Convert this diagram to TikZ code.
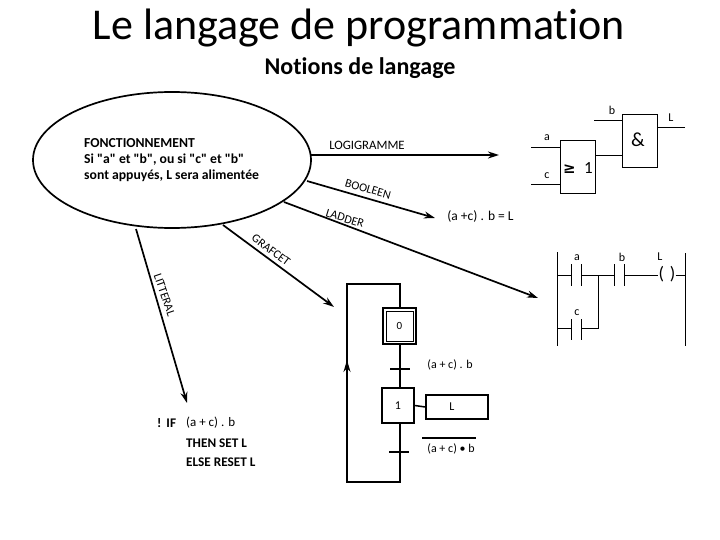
\documentclass[tikz,border=0pt]{standalone}
\usepackage{fontspec}
\setmainfont{Carlito}[Ligatures={NoCommon,TeXOff}]
\newfontfamily\symfont{DejaVu Sans}
\usetikzlibrary{arrows.meta,shapes.geometric}
\newcommand{\fsz}[1]{\fontsize{#1}{#1}\selectfont}
\tikzset{
 x=1pt,y=-1pt,
 lab/.style={inner sep=0pt,font=\fsz{12},text=black},
 diag/.style={inner sep=0pt,font=\fsz{12}},
 gate/.style={draw,line width=1pt,inner sep=0pt,minimum width=35.5pt,minimum height=53pt},
 wire/.style={line width=1pt},
 arr/.style={line width=1.7pt,-{Stealth[length=11pt,width=7pt]}},
 gwire/.style={line width=1.5pt},
 stepbox/.style={draw,line width=1.5pt,inner sep=0pt},
 code/.style={inner sep=0pt,anchor=west,font=\fsz{13.2}\bfseries},
}
\begin{document}
\begin{tikzpicture}
\useasboundingbox (0,0) rectangle (720,540);
\node[inner sep=0pt,font=\fsz{44}] (title) at (359,28) {Le langage de programmation};
\node[inner sep=0pt,font=\fsz{24}\bfseries] (sub) at (360,68) {Notions de langage};
% ellipse
\node[draw,ellipse,line width=1.7pt,minimum width=278pt,minimum height=136pt,inner sep=0pt] (ell) at (172,160) {};
\node[inner sep=0pt,anchor=west,align=left,font=\fsz{13.7}\bfseries] (fonc) at (84,160) {\fsz{13.7}\bfseries FONCTIONNEMENT\\[1.9pt]Si "a" et "b", ou si "c" et "b"\\[1.9pt]sont appuyés, L sera alimentée};
% arrow ends
\coordinate (s1) at (311,155); \coordinate (e1) at (499,155);
\coordinate (s2) at (307,181); \coordinate (e2) at (435,218);
\coordinate (s3) at (284,202); \coordinate (e3) at (538,298);
\coordinate (s4) at (223,225); \coordinate (e4) at (334,307);
\coordinate (s5) at (136,229); \coordinate (e5) at (187,403);
\draw[arr] (s1) -- (e1);
\draw[arr] (s2) -- (e2);
\draw[arr] (s3) -- (e3);
\draw[arr] (s4) -- (e4);
\draw[arr] (s5) -- (e5);
\node[diag,font=\fsz{12.8}] (llog) at (367,145) {LOGIGRAMME};
\node[diag,rotate=-16] (lboo) at (368,189) {BOOLEEN};
\node[diag,rotate=-17] (llad) at (345,218.5) {LADDER};
\node[diag,rotate=-37] (lgra) at (271,250) {GRAFCET};
\node[diag,rotate=-71] (llit) at (164.5,295) {LITTERAL};
% logigramme
\node[gate] (or) at (578,167.5) {};
\node[gate] (and) at (640,141.5) {};
\node[lab,font=\fsz{20}] (ampl) at (638,140) {\&};
\node[lab,font=\fsz{15}\symfont\bfseries] (geq) at (569.5,169) {≥};
\node[lab,font=\fsz{17}] (un) at (588.5,168) {1};
\coordinate (ia) at (531,148); \coordinate (ic) at (531,185); \coordinate (ib) at (594,121); \coordinate (ol) at (685,128);
\coordinate (mid) at (600,156);
\draw[wire] (ia) -- (ia -| or.west);
\draw[wire] (ic) -- (ic -| or.west);
\draw[wire] (ib) -- (ib -| and.west);
\draw[wire] (ol) -- (ol -| and.east);
\draw[wire] (or.east |- mid) -- (and.west |- mid);
\node[lab] (la) at (547,138) {a};
\node[lab] (lc) at (547,176) {c};
\node[lab] (lb) at (612,110) {b};
\node[lab] (lL) at (671,118) {L};
\node[lab,font=\fsz{13.5}] (eq) at (480.5,216) {(a +c) . b = L};
% ladder
\coordinate (r1t) at (557,252); \coordinate (r1b) at (557,346);
\coordinate (r2t) at (685,253); \coordinate (r2b) at (685,346);
\draw[wire] (r1t) -- (r1b);
\draw[wire] (r2t) -- (r2b);
\coordinate (a1t) at (571,264); \coordinate (a1b) at (571,286);
\coordinate (a2t) at (581,264); \coordinate (a2b) at (581,286);
\coordinate (b1t) at (614,264); \coordinate (b1b) at (614,286);
\coordinate (b2t) at (624,264); \coordinate (b2b) at (624,286);
\coordinate (c1t) at (571,319); \coordinate (c1b) at (571,340);
\coordinate (c2t) at (581,319); \coordinate (c2b) at (581,340);
\draw[wire] (a1t) -- (a1b); \draw[wire] (a2t) -- (a2b);
\draw[wire] (b1t) -- (b1b); \draw[wire] (b2t) -- (b2b);
\draw[wire] (c1t) -- (c1b); \draw[wire] (c2t) -- (c2b);
\node[lab,font=\fsz{18}] (coil) at (667,274) {(\,\,)};
\coordinate (rw) at (557,275); \coordinate (rwc) at (557,328.5); \coordinate (j) at (598,275);
\draw[wire] (rw) -- (rw -| a1t);
\draw[wire] (rw -| a2t) -- (rw -| b1t);
\draw[wire] (rw -| b2t) -- (rw -| coil.west);
\draw[wire] (rw -| coil.east) -- (rw -| r2t);
\draw[wire] (rwc) -- (rwc -| c1t);
\draw[wire] (rwc -| c2t) -- (rwc -| j) -- (j);
\node[lab] (lla) at (577,258) {a};
\node[lab] (llb) at (622,257) {b};
\node[lab] (llL) at (660,257) {L};
\node[lab] (llc) at (577,313) {c};
% grafcet
\node[stepbox,minimum width=33pt,minimum height=36pt] (s0) at (399.5,326) {};
\node[stepbox,line width=1pt,minimum width=27pt,minimum height=30pt,font=\fsz{11}] (s0i) at (399.5,326) {0};
\node[stepbox,minimum width=32pt,minimum height=35pt,font=\fsz{12}] (st1) at (398,405.5) {1};
\node[stepbox,minimum width=62pt,minimum height=24pt] (act) at (457,407) {};
\node[lab] (lact) at (452,407) {L};
\coordinate (topr) at (400,284); \coordinate (topl) at (347,284);
\coordinate (botr) at (400,482); \coordinate (botl) at (347,482);
\coordinate (tip) at (347,360);
\draw[gwire] (s0.north -| topr) -- (topr) -- (topl) -- (botl) -- (botr) -- (st1.south -| botr);
\draw[gwire] (s0.south -| topr) -- (st1.north -| topr);
\draw[gwire] (st1.east) -- (act.west);
\coordinate (t1a) at (390,369); \coordinate (t1b) at (410,369);
\coordinate (t2a) at (389,452); \coordinate (t2b) at (409,452);
\draw[gwire] (t1a) -- (t1b);
\draw[gwire] (t2a) -- (t2b);
\draw[line width=1.5pt,-{Stealth[length=12pt,width=7pt]}] (botl) -- (tip);
\node[lab] (tc1) at (450,365) {(a + c) . b};
\node[lab] (tc2) at (451,449) {(a + c) • b};
\coordinate (ova) at (422,438); \coordinate (ovb) at (476,438);
\draw[line width=1.3pt] (ova) -- (ovb);
% litteral
\node[code] (if1) at (157,423) {!\hspace{5pt}IF};
\node[code,font=\fsz{13}] (if2) at (186,423) {(a + c) . b};
\node[code] (if3) at (186,443) {THEN SET L};
\node[code] (if4) at (186,462) {ELSE RESET L};
\end{tikzpicture}
\end{document}
